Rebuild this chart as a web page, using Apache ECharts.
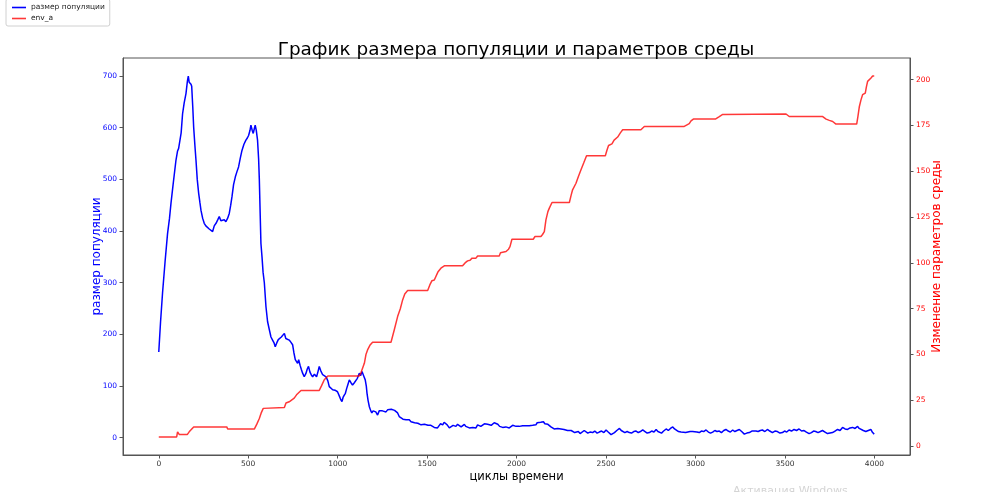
<!DOCTYPE html>
<html>
<head>
<meta charset="utf-8">
<script src="https://cdn.jsdelivr.net/npm/echarts@6/dist/echarts.min.js"></script>
<style>html,body{margin:0;padding:0;background:#fff}#c{width:990px;height:492px}</style>
</head>
<body>
<div id="c"></div>
<script>
const titleText = 'График размера популяции и параметров среды';
const xName = 'циклы времени';
const leftName = 'размер популяции';
const rightName = 'Изменение параметров среды';
const seriesNames = ['размер популяции', 'env_a'];
const xTicks = [0, 500, 1000, 1500, 2000, 2500, 3000, 3500, 4000];
const leftTicks = [0, 100, 200, 300, 400, 500, 600, 700];
const rightTicks = [0, 25, 50, 75, 100, 125, 150, 175, 200];

// population size [cycle, value]
const popPoints = [
[0,166],[10,225],[21,280],[35,340],[49,395],[60,425],[68,453],[80,490],[96,537],[105,555],[111,560],[118,562],[125,590],[133,627],[142,648],[152,666],[160,690],[165,700],[170,688],[174,685],[180,684],[184,680],[190,640],[195,601],[202,565],[208,537],[215,500],[223,473],[230,455],[236,440],[245,425],[254,415],[263,410],[273,408],[282,404],[292,402],[301,399],[310,410],[320,415],[330,422],[338,428],[347,420],[357,418],[366,422],[375,418],[385,425],[394,434],[402,450],[409,466],[418,490],[428,505],[437,515],[446,524],[455,540],[465,556],[476,568],[487,576],[495,580],[502,585],[510,595],[515,605],[522,595],[528,589],[534,598],[539,605],[545,595],[552,576],[558,540],[562,500],[567,430],[571,376],[577,350],[583,320],[590,300],[599,254],[608,225],[618,209],[627,195],[636,189],[645,183],[651,176],[660,184],[668,190],[674,193],[685,195],[694,196],[702,202],[710,192],[720,195],[729,189],[738,185],[748,180],[755,165],[763,151],[770,148],[776,144],[782,151],[790,140],[797,132],[804,125],[813,118],[822,124],[830,133],[837,138],[845,127],[852,122],[860,118],[870,123],[882,118],[890,128],[897,138],[905,130],[916,122],[925,120],[935,118],[945,110],[953,99],[962,97],[972,93],[985,92],[999,89],[1010,80],[1017,74],[1024,70],[1030,78],[1036,82],[1043,86],[1050,95],[1058,104],[1065,112],[1075,106],[1083,102],[1092,106],[1102,109],[1110,115],[1121,125],[1128,120],[1136,128],[1145,120],[1154,112],[1160,100],[1164,86],[1170,72],[1177,60],[1185,52],[1191,48],[1198,52],[1205,54],[1213,50],[1223,44],[1232,52],[1242,54],[1250,52],[1261,51],[1270,50],[1279,54],[1290,52],[1300,55],[1310,54],[1318,53],[1326,54],[1335,48],[1344,41],[1355,39],[1365,36],[1373,38],[1382,35],[1392,33],[1400,35],[1410,31],[1419,33],[1430,29],[1440,30],[1448,28],[1456,27],[1466,25],[1475,28],[1485,26],[1494,25],[1505,24],[1512,22],[1521,24],[1530,22],[1540,20],[1548,22],[1558,19],[1566,23],[1575,27],[1587,25],[1595,30],[1605,31],[1612,25],[1618,22],[1624,19],[1635,21],[1645,24],[1652,22],[1661,22],[1670,26],[1680,24],[1690,21],[1698,23],[1708,26],[1716,22],[1726,19],[1736,19],[1745,17],[1755,20],[1765,22],[1773,19],[1782,25],[1792,26],[1800,22],[1810,23],[1820,27],[1830,28],[1838,26],[1847,27],[1858,24],[1866,27],[1875,29],[1885,27],[1895,26],[1905,22],[1915,20],[1922,20],[1932,18],[1940,21],[1950,22],[1959,19],[1968,21],[1978,24],[1987,22],[1997,22],[2005,19],[2015,22],[2025,24],[2034,23],[2043,21],[2050,23],[2060,25],[2071,23],[2080,21],[2090,24],[2100,26],[2108,25],[2115,29],[2125,28],[2135,30],[2145,33],[2150,31],[2158,27],[2165,29],[2175,26],[2183,25],[2192,21],[2200,19],[2210,17],[2220,15],[2230,18],[2240,20],[2248,17],[2257,19],[2265,16],[2275,13],[2285,14],[2295,12],[2305,14],[2315,11],[2325,10],[2332,9],[2345,12],[2355,8],[2365,11],[2378,14],[2388,12],[2398,9],[2410,11],[2425,10],[2437,13],[2450,9],[2462,11],[2475,13],[2488,10],[2500,15],[2512,11],[2520,8],[2528,6],[2537,9],[2547,10],[2560,14],[2575,18],[2585,14],[2593,13],[2605,10],[2618,12],[2630,10],[2642,9],[2655,12],[2668,13],[2680,10],[2692,12],[2705,15],[2718,12],[2730,9],[2742,10],[2755,13],[2768,11],[2780,16],[2790,12],[2798,11],[2810,9],[2822,13],[2836,17],[2848,14],[2860,18],[2873,21],[2883,17],[2891,15],[2905,12],[2919,11],[2930,8],[2945,10],[2956,9],[2970,12],[2984,12],[2995,9],[3008,11],[3021,10],[3033,13],[3046,12],[3059,15],[3072,11],[3084,9],[3096,11],[3108,14],[3120,12],[3133,13],[3145,10],[3158,14],[3170,16],[3183,13],[3195,11],[3208,15],[3220,12],[3232,14],[3245,16],[3258,12],[3273,7],[3287,9],[3301,10],[3315,13],[3326,11],[3338,13],[3350,12],[3362,14],[3374,15],[3388,12],[3402,16],[3415,13],[3430,10],[3444,13],[3458,12],[3472,9],[3486,10],[3498,13],[3510,11],[3523,15],[3537,13],[3551,16],[3565,14],[3579,17],[3593,13],[3607,14],[3620,11],[3635,8],[3648,10],[3660,13],[3672,12],[3685,10],[3698,12],[3710,14],[3724,11],[3738,8],[3752,9],[3766,10],[3780,13],[3794,16],[3808,14],[3822,20],[3836,17],[3850,16],[3864,19],[3878,20],[3892,18],[3906,22],[3915,18],[3924,15],[3938,14],[3952,12],[3966,14],[3980,16],[3990,10],[3999,7]
];

// env_a [cycle, value]
const envPoints = [
[0,5],[100,5],[105,7.8],[109,7.8],[114,6.4],[160,6.4],[170,7.8],[180,8],[195,10.5],[380,10.5],[385,9.3],[534,9.3],[548,12],[562,15.1],[572,18],[584,20.6],[594,21.1],[702,21.1],[711,23.5],[729,24.2],[739,25.1],[757,26.2],[770,28],[795,30.4],[897,30.4],[910,33],[925,36.2],[935,36.5],[945,38.3],[1121,38.3],[1130,40],[1149,45.2],[1158,50],[1167,52.5],[1180,55],[1195,56.7],[1298,56.7],[1315,63],[1335,70.7],[1350,75],[1363,79.8],[1375,83],[1391,84.9],[1503,84.9],[1515,88],[1527,90.3],[1540,90.7],[1560,95],[1577,97.1],[1596,98.4],[1698,98.4],[1712,100],[1726,101.1],[1740,101.5],[1751,102.6],[1773,102.6],[1782,103.8],[1903,103.8],[1910,105.5],[1918,106.2],[1941,106.2],[1955,107.5],[1963,108.9],[1974,112.9],[2093,112.9],[2103,114.4],[2136,114.4],[2145,115.5],[2155,117.1],[2164,123.5],[2175,128],[2183,129.9],[2198,133],[2295,133],[2305,137],[2313,139.9],[2332,143.5],[2345,147],[2360,150.8],[2375,154.5],[2391,158.5],[2496,158.5],[2505,161.5],[2514,164.1],[2533,165],[2545,167],[2552,167.8],[2565,168.7],[2580,171],[2593,172.7],[2695,172.7],[2714,174.5],[2937,174.5],[2950,175.2],[2965,176],[2975,177.5],[2988,178.5],[3111,178.5],[3133,179.9],[3150,181],[3161,181.3],[3506,181.3],[3524,179.9],[3711,179.9],[3730,178.5],[3748,177.8],[3767,177.2],[3785,175.8],[3901,175.8],[3908,180],[3916,185.4],[3925,189],[3934,191.8],[3949,192.7],[3955,196],[3962,199.1],[3981,200.9],[3990,202],[3999,202]
];

const FONT = 'DejaVu Sans';
const plain = v => String(v);
const chart = echarts.init(document.getElementById('c'), null, {renderer: 'canvas'});
chart.setOption({
  animation: false,
  backgroundColor: '#ffffff',
  textStyle: {fontFamily: FONT},
  title: {
    text: titleText, left: 511, top: 36, textAlign: 'center',
    textStyle: {fontFamily: FONT, fontSize: 18.4, fontWeight: 'normal', color: '#000'}
  },
  legend: {
    orient: 'vertical', left: 6, top: -1,
    data: seriesNames,
    icon: 'rect',
    backgroundColor: '#fff', borderColor: '#d0d0d0', borderWidth: 1, borderRadius: 2,
    padding: [4, 5, 3, 6], itemGap: 2, itemWidth: 14, itemHeight: 1.6,
    textStyle: {fontFamily: FONT, fontSize: 7.5, color: '#222', lineHeight: 9}
  },
  grid: {left: 123, right: 80, top: 58, bottom: 37, show: true, borderColor: '#555', borderWidth: 1, backgroundColor: 'transparent'},
  xAxis: {
    type: 'value', min: -200, max: 4199,
    name: xName, nameLocation: 'middle', nameGap: 16, nameMoveOverlap: false,
    nameTextStyle: {fontFamily: FONT, fontSize: 11.5, color: '#000'},
    axisLine: {show: true, onZero: false, lineStyle: {color: '#555', width: 1}},
    axisTick: {show: true, length: 3.5, customValues: xTicks, lineStyle: {color: '#555'}},
    axisLabel: {customValues: xTicks, formatter: plain, fontSize: 7.5, color: '#333', margin: 5, fontFamily: FONT},
    splitLine: {show: false}
  },
  yAxis: [{
    type: 'value', position: 'left', min: -33.4, max: 734.9,
    name: leftName, nameLocation: 'middle', nameGap: 20, nameRotate: 90, nameMoveOverlap: false,
    nameTextStyle: {fontFamily: FONT, fontSize: 12, color: '#0000ff'},
    axisLine: {show: true, onZero: false, lineStyle: {color: '#555', width: 1}},
    axisTick: {show: true, length: 3.5, customValues: leftTicks, lineStyle: {color: '#555'}},
    axisLabel: {customValues: leftTicks, formatter: plain, fontSize: 7.5, color: '#0000ff', margin: 6, fontFamily: FONT},
    splitLine: {show: false}
  }, {
    type: 'value', position: 'right', min: -4.85, max: 211.85,
    name: rightName, nameLocation: 'middle', nameGap: 21, nameRotate: 90, nameMoveOverlap: false,
    nameTextStyle: {fontFamily: FONT, fontSize: 12, color: '#ff0000'},
    axisLine: {show: true, onZero: false, lineStyle: {color: '#555', width: 1}},
    axisTick: {show: true, length: 3.5, customValues: rightTicks, lineStyle: {color: '#555'}},
    axisLabel: {customValues: rightTicks, formatter: plain, fontSize: 7.5, color: '#ff0000', margin: 6, fontFamily: FONT},
    splitLine: {show: false}
  }],
  series: [{
    name: seriesNames[0], type: 'line', yAxisIndex: 0, data: popPoints,
    symbol: 'none', showSymbol: false,
    lineStyle: {color: '#0000ff', width: 1.5}, itemStyle: {color: '#0000ff'}
  }, {
    name: seriesNames[1], type: 'line', yAxisIndex: 1, data: envPoints,
    symbol: 'none', showSymbol: false,
    lineStyle: {color: 'rgba(255,0,0,0.78)', width: 1.5}, itemStyle: {color: 'rgba(255,0,0,0.78)'}
  }],
  graphic: [{
    type: 'text', left: 733, top: 486, silent: true,
    style: {text: 'Активация Windows', fontFamily: FONT, fontSize: 11, fill: '#d4d4d4'}
  }]
});
</script>
</body>
</html>
